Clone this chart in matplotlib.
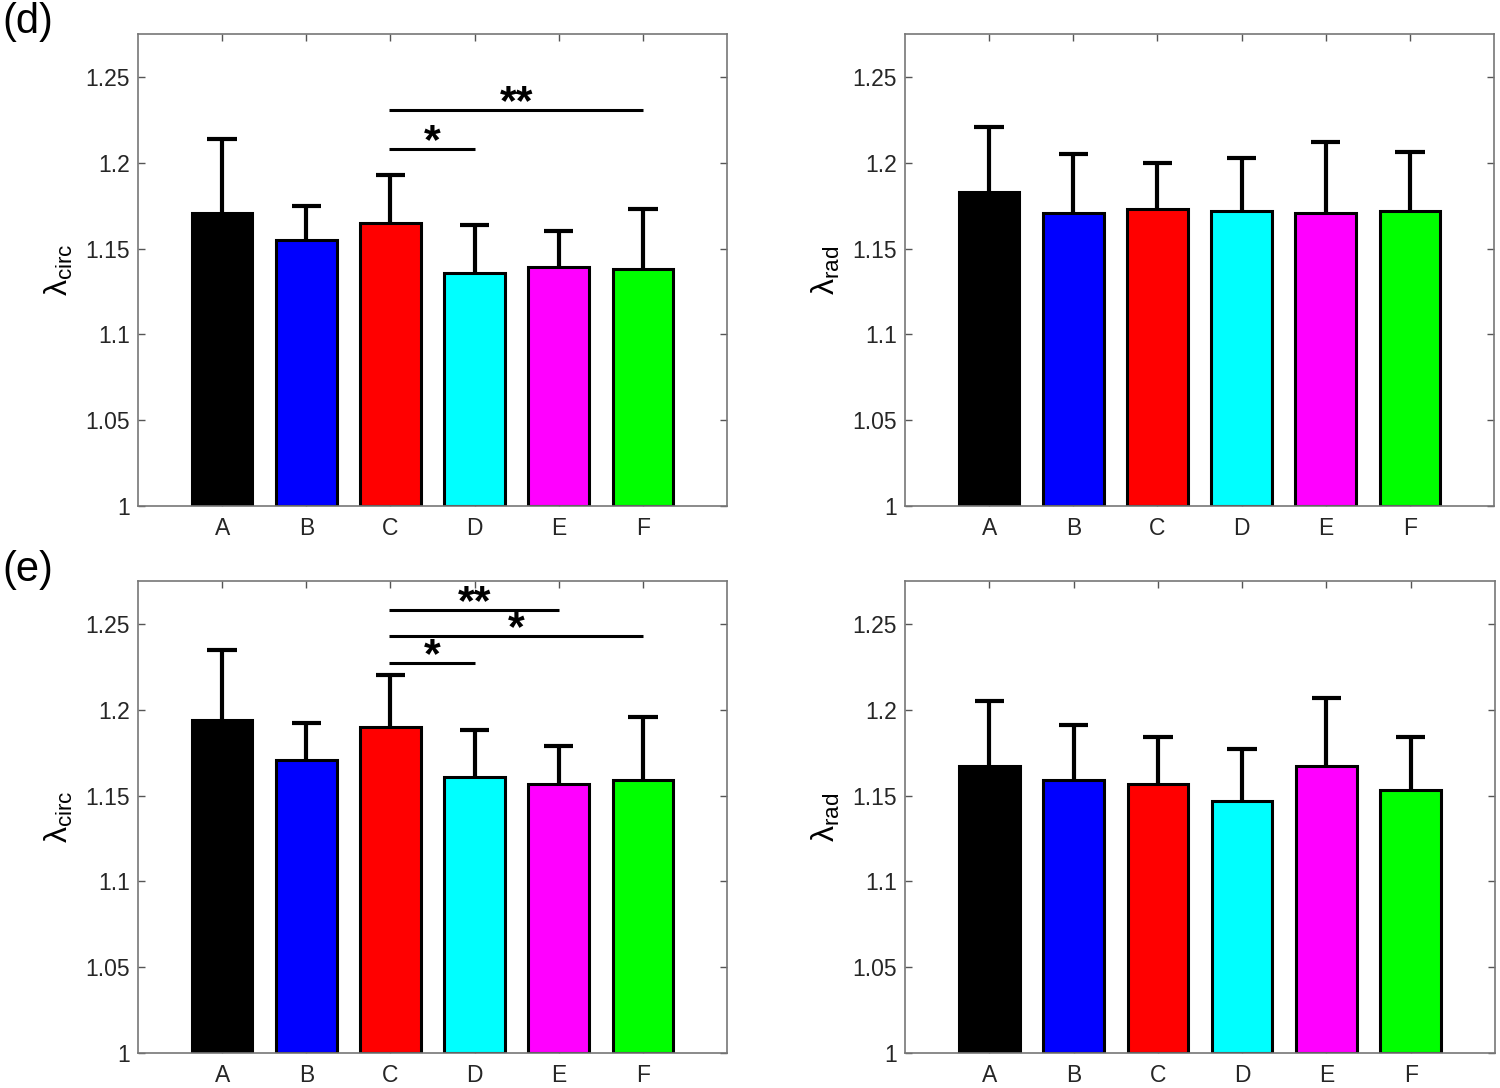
import matplotlib
matplotlib.use("Agg")
import matplotlib.pyplot as plt
import matplotlib.transforms as mtransforms
import numpy as np

plt.rcParams['font.family'] = ['Liberation Sans', 'DejaVu Sans']
plt.rcParams['mathtext.fontset'] = 'custom'
plt.rcParams['mathtext.rm'] = 'Liberation Sans'
plt.rcParams['mathtext.it'] = 'Liberation Sans'

categories = ['A', 'B', 'C', 'D', 'E', 'F']
colors = ['#000000', '#0000ff', '#ff0000', '#00ffff', '#ff00ff', '#00ff00']

# panel (d)
d_circ_mean = [1.171, 1.155, 1.165, 1.136, 1.139, 1.138]
d_circ_err = [1.214, 1.175, 1.193, 1.164, 1.160, 1.173]
d_rad_mean = [1.183, 1.171, 1.173, 1.172, 1.171, 1.172]
d_rad_err = [1.221, 1.205, 1.200, 1.203, 1.212, 1.206]
# panel (e)
e_circ_mean = [1.194, 1.171, 1.190, 1.161, 1.157, 1.159]
e_circ_err = [1.235, 1.192, 1.220, 1.188, 1.179, 1.196]
e_rad_mean = [1.167, 1.159, 1.157, 1.147, 1.167, 1.153]
e_rad_err = [1.205, 1.191, 1.184, 1.177, 1.207, 1.184]

# significance brackets: (start idx, end idx, y, label)
d_sig = [(2, 5, 1.2305, '**'), (2, 3, 1.208, '*')]
e_sig = [(2, 4, 1.258, '**'), (2, 5, 1.243, '*'), (2, 3, 1.227, '*')]

yticks = [1, 1.05, 1.1, 1.15, 1.2, 1.25]
ytick_labels = ['1', '1.05', '1.1', '1.15', '1.2', '1.25']

fig = plt.figure(figsize=(15, 10.88), dpi=100)
W, H = 1500, 1088

def make_ax(left, top, right, bottom):
    return fig.add_axes([left / W, 1 - bottom / H, (right - left) / W, (bottom - top) / H])

CAP_HALF = 0.175
BAR_W = 0.72

def draw(ax, means, tops, ylabel, sigs):
    x = np.arange(1, len(categories) + 1)
    base = 1.0
    ax.bar(x, np.array(means) - base, bottom=base, width=BAR_W, color=colors,
           edgecolor='black', linewidth=2.2, zorder=2)
    for xi, m, t in zip(x, means, tops):
        ax.plot([xi, xi], [m, t], color='black', lw=3, solid_capstyle='butt', zorder=1)
        ax.plot([xi - CAP_HALF, xi + CAP_HALF], [t, t], color='black', lw=3,
                solid_capstyle='butt', zorder=1)
    txt_tr = mtransforms.offset_copy(ax.transData, fig=fig, y=-3, units='points')
    for (i, j, y, lab) in sigs:
        ax.plot([x[i] - 0.02, x[j]], [y, y], color='black', lw=2.2, solid_capstyle='butt', zorder=3)
        ax.text((x[i] + x[j]) / 2, y, lab, ha='center', va='baseline',
                fontsize=31, fontweight='bold', zorder=3, transform=txt_tr)
    ax.set_xlim(0, 7)
    ax.set_ylim(1, 1.275)
    ax.set_xticks(x)
    ax.set_xticklabels(categories)
    ax.set_yticks(yticks)
    ax.set_yticklabels(ytick_labels)
    ax.tick_params(direction='in', top=True, right=True, labelsize=16.5,
                   color='#555555', length=5, width=1, labelcolor='#262626')
    ax.tick_params(axis='y', pad=6)
    ax.tick_params(axis='x', pad=8)
    for s in ax.spines.values():
        s.set_color('#777777')
        s.set_linewidth(1.2)
    ax.set_ylabel(ylabel, fontsize=23)
    ax.yaxis.set_label_coords(-0.107, 0.5)

lab_circ = r'$\mathrm{\lambda}_{\mathrm{circ}}$'
lab_rad = r'$\mathrm{\lambda}_{\mathrm{rad}}$'

ax1 = make_ax(138, 34, 727, 506)
draw(ax1, d_circ_mean, d_circ_err, lab_circ, d_sig)
ax2 = make_ax(905, 34, 1494, 506)
draw(ax2, d_rad_mean, d_rad_err, lab_rad, [])
ax3 = make_ax(138, 581, 727, 1053)
draw(ax3, e_circ_mean, e_circ_err, lab_circ, e_sig)
ax4 = make_ax(905, 581, 1495, 1053)
draw(ax4, e_rad_mean, e_rad_err, lab_rad, [])

fig.text(2 / W, 1 - 22 / H, '(d)', fontsize=30, va='center', ha='left')
fig.text(2 / W, 1 - 570 / H, '(e)', fontsize=30, va='center', ha='left')

fig.savefig('out.png', dpi=100, facecolor='white')
